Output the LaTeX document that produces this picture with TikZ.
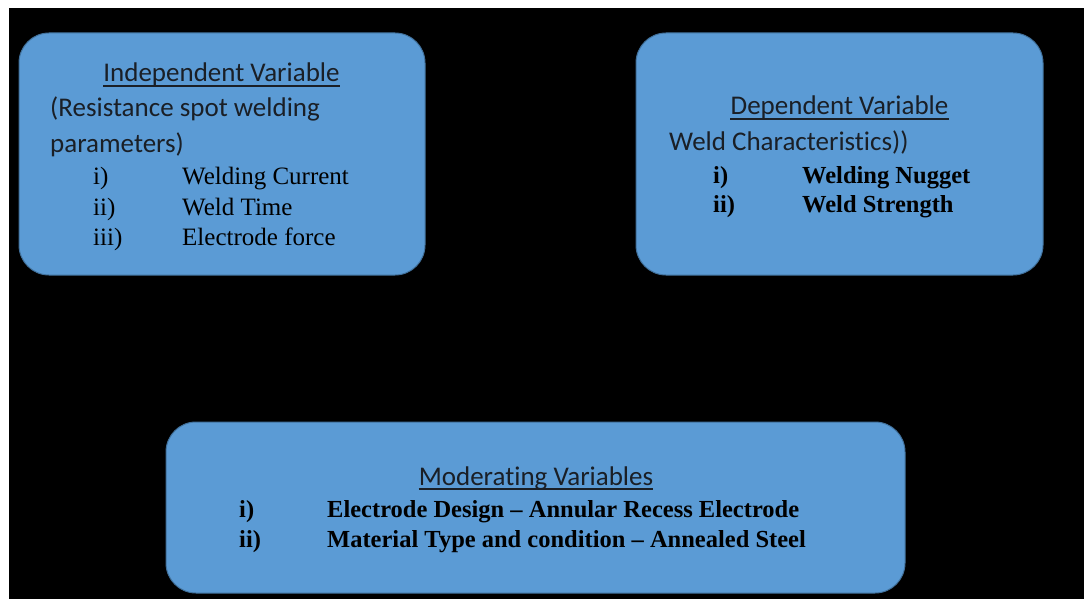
\documentclass[tikz,border=0pt]{standalone}
\usepackage{fontspec}
\setmainfont{Liberation Serif}
\newfontfamily\calibri[Ligatures=NoCommon]{Carlito}
\usetikzlibrary{positioning}

\definecolor{boxblue}{HTML}{5B9BD5}
\definecolor{boxline}{HTML}{41719C}
\definecolor{inkdark}{HTML}{1A1F26}

\tikzset{
    varbox/.style={draw=boxline, fill=boxblue, line width=1pt, rounded corners=30pt, inner sep=0pt},
    headtxt/.style={anchor=base, inner sep=0pt, text=inkdark, font=\calibri\fontsize{27}{32}\selectfont},
    subtxt/.style={anchor=base west, inner sep=0pt, text=inkdark, font=\calibri\fontsize{27}{32}\selectfont},
    itemtxt/.style={anchor=base west, inner sep=0pt, font=\fontsize{25}{30}\selectfont},
    bolditem/.style={anchor=base west, inner sep=0pt, font=\bfseries\fontsize{24.5}{29}\selectfont},
    headline/.style={draw=inkdark, line width=1.6pt},
}

\begin{document}
\begin{tikzpicture}[x=1pt, y=-1pt]
    \useasboundingbox (0,0) rectangle (1084,599);
    \fill[white] (0,0) rectangle (1084,599);
    \fill[black] (9,8) rectangle (1084,599);

    % boxes
    \node[varbox, minimum width=406pt, minimum height=242pt] (indep) at (222,154) {};
    \node[varbox, minimum width=407pt, minimum height=242pt] (dep) at (839.5,154) {};
    \node[varbox, minimum width=739pt, minimum height=171pt] (moder) at (535.5,507.5) {};

    % independent variable
    \node[headtxt] (indephead) at (221.5,82) {Independent Variable};
    \draw[headline] ([yshift=-4pt]indephead.base west) -- ([yshift=-4pt]indephead.base east);
    \node[subtxt] (indepsub1) at (50,117) {(Resistance spot welding};
    \node[subtxt] (indepsub2) at (50,153) {parameters)};
    \node[itemtxt] (in1) at (93,184) {i)};
    \node[itemtxt] (in2) at (93,215) {ii)};
    \node[itemtxt] (in3) at (93,245) {iii)};
    \node[itemtxt] (in1t) at (182,184) {Welding Current};
    \node[itemtxt] (in2t) at (182,215) {Weld Time};
    \node[itemtxt] (in3t) at (182,245) {Electrode force};

    % dependent variable
    \node[headtxt] (dephead) at (839.5,115) {Dependent Variable};
    \draw[headline] ([yshift=-4pt]dephead.base west) -- ([yshift=-4pt]dephead.base east);
    \node[subtxt] (depsub) at (669,150) {Weld Characteristics))};
    \node[bolditem] (dp1) at (713,183) {i)};
    \node[bolditem] (dp2) at (713,212) {ii)};
    \node[bolditem] (dp1t) at (802,183) {Welding Nugget};
    \node[bolditem] (dp2t) at (802,212) {Weld Strength};

    % moderating variables
    \node[headtxt] (moderhead) at (536,485) {Moderating Variables};
    \draw[headline] ([yshift=-4pt]moderhead.base west) -- ([yshift=-4pt]moderhead.base east);
    \node[bolditem] (md1) at (239,517) {i)};
    \node[bolditem] (md2) at (239,547) {ii)};
    \node[bolditem] (md1t) at (327,517) {Electrode Design -- Annular Recess Electrode};
    \node[bolditem] (md2t) at (327,547) {Material Type and condition -- Annealed Steel};
\end{tikzpicture}
\end{document}
